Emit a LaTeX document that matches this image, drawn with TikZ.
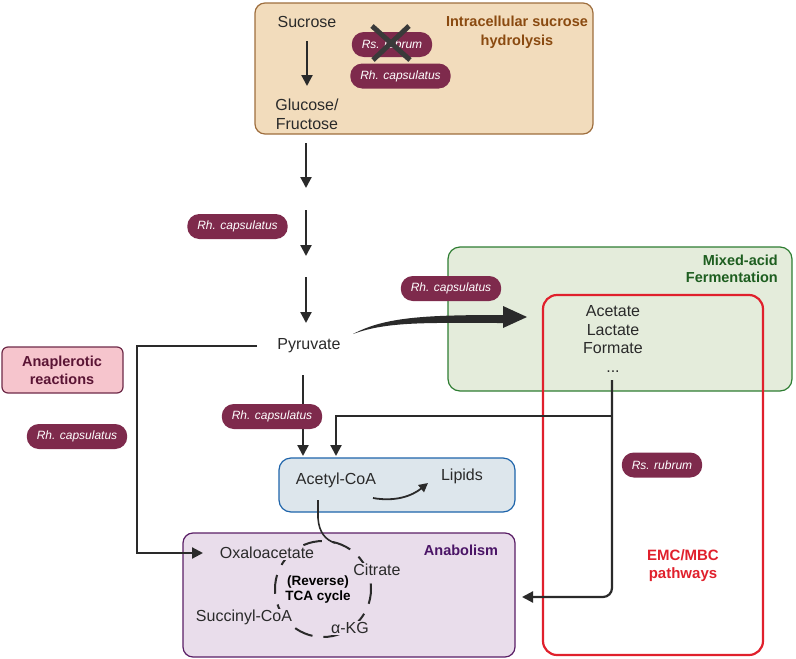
\documentclass[tikz,border=0pt]{standalone}
\usepackage{fontspec}
\setmainfont{Liberation Sans}
\usetikzlibrary{arrows.meta}
\definecolor{tanfill}{HTML}{F2DCBC}
\definecolor{tanborder}{HTML}{9E6E3E}
\definecolor{browntxt}{HTML}{8A4A10}
\definecolor{pillc}{HTML}{7E2A4C}
\definecolor{greenfill}{HTML}{E4ECDB}
\definecolor{greenborder}{HTML}{2E7D32}
\definecolor{greentxt}{HTML}{1E5E20}
\definecolor{redc}{HTML}{E0202C}
\definecolor{bluefill}{HTML}{DDE6EC}
\definecolor{blueborder}{HTML}{1E64AA}
\definecolor{purplefill}{HTML}{E9DDEB}
\definecolor{purpleborder}{HTML}{5A1E66}
\definecolor{purpletxt}{HTML}{4A1466}
\definecolor{pinkfill}{HTML}{F6C5CD}
\definecolor{pinkborder}{HTML}{6E2A48}
\definecolor{pinktxt}{HTML}{5A1434}
\definecolor{ink}{HTML}{2A2A2A}
\definecolor{crossc}{HTML}{3A3A3A}
\tikzset{
  region/.style={draw, line width=1.2pt, inner sep=0pt},
  pill/.style={fill=pillc, text=white, rounded corners=12pt, minimum height=25pt,
    inner xsep=10pt, inner ysep=0pt, font=\fontsize{12}{14}\selectfont\itshape},
  lbl/.style={font=\fontsize{16}{18.5}\selectfont, text=ink, align=center, inner sep=0pt},
  ttl/.style={font=\fontsize{14.5}{17.5}\selectfont\bfseries, align=center, inner sep=0pt},
  arr/.style={draw=ink, line width=2.2pt, -{Triangle[length=11pt,width=11pt]}},
  conn/.style={draw=ink, line width=2.2pt},
  crossline/.style={draw=crossc, line width=5pt},
}
\begin{document}
\begin{tikzpicture}[x=1pt,y=-1pt]
\useasboundingbox (0,0) rectangle (796,659);

% regions
\node[region, fill=tanfill, draw=tanborder, rounded corners=10pt, minimum width=338pt, minimum height=131pt] (hyd) at (424,68.5) {};
\node[region, fill=greenfill, draw=greenborder, rounded corners=12pt, minimum width=344pt, minimum height=144pt] (ferm) at (620,319) {};
\node[region, fill=bluefill, draw=blueborder, rounded corners=12pt, minimum width=236pt, minimum height=54pt] (acbox) at (397,485) {};
\node[region, fill=purplefill, draw=purpleborder, rounded corners=10pt, minimum width=332pt, minimum height=124pt] (anab) at (349,595) {};
\node[region, fill=pinkfill, draw=pinkborder, rounded corners=6pt, minimum width=121pt, minimum height=46pt] (anap) at (62.5,370) {};

% top box content
\node[lbl] (suc) at (307,22) {Sucrose};
\node[lbl, font=\fontsize{16}{19}\selectfont] (glu) at (307,114) {Glucose/\\Fructose};
\coordinate (s1) at (307,41);
\coordinate (s2) at (307,86);
\draw[arr] (s1) -- (s2);
\node[pill] (rsr1) at (392,44.5) {Rs. rubrum};
\node[pill] (rhc1) at (400.5,76) {Rh. capsulatus};
\coordinate (x1) at (372,26);
\coordinate (x2) at (410,60);
\coordinate (x3) at (409,26);
\coordinate (x4) at (373,60);
\draw[crossline] (x1) -- (x2);
\draw[crossline] (x3) -- (x4);
\node[ttl, text=browntxt, font=\fontsize{14.5}{19}\selectfont\bfseries] (hydt) at (517,32.5) {Intracellular sucrose\\hydrolysis};

% main chain
\coordinate (c1) at (306,143);
\coordinate (c2) at (306,188);
\coordinate (c3) at (306,210);
\coordinate (c4) at (306,256);
\coordinate (c5) at (306,277);
\coordinate (c6) at (306,323);
\draw[arr] (c1) -- (c2);
\draw[arr] (c3) -- (c4);
\draw[arr] (c5) -- (c6);
\node[pill] (rhc2) at (237.5,226.5) {Rh. capsulatus};

\node[lbl] (pyr) at (309,346) {Pyruvate};

% big curved arrow to fermentation
\fill[ink] (353,334) .. controls (385,317) and (425,315) .. (503,315)
  -- (503,306) -- (527,317) -- (503,328) -- (503,323)
  .. controls (430,323) and (388,321) .. (353,334) -- cycle;
\node[pill] (rhc3) at (451,288.5) {Rh. capsulatus};

% fermentation
\node[ttl, text=greentxt, align=right, anchor=east, font=\fontsize{14.5}{16.5}\selectfont\bfseries] (fermt) at (778,269) {Mixed-acid\\Fermentation};
\node[region, draw=redc, line width=2.2pt, rounded corners=14pt, minimum width=220pt, minimum height=360pt] (emc) at (653,475) {};
\node[lbl] (acids) at (613,339) {Acetate\\Lactate\\Formate\\...};
\node[ttl, text=redc, font=\fontsize{15}{18}\selectfont\bfseries] (emct) at (683,566) {EMC/MBC\\pathways};
\node[pill] (rsr2) at (662,465) {Rs. rubrum};

% anaplerotic
\node[ttl, text=pinktxt, font=\fontsize{14.5}{18}\selectfont\bfseries] (anapt) at (62,370) {Anaplerotic\\reactions};
\node[pill] (rhc4) at (77,436.5) {Rh. capsulatus};
\coordinate (p1) at (257,346);
\coordinate (p2) at (137,346);
\coordinate (p3) at (137,553);
\coordinate (p4) at (203,553);
\draw[arr] (p1) -- (p2) -- (p3) -- (p4);

% pyruvate -> acetyl-CoA
\coordinate (d1) at (303,375);
\coordinate (d2) at (303,456);
\draw[arr] (d1) -- (d2);
\node[pill] (rhc5) at (272,416.5) {Rh. capsulatus};

% acids -> acetyl-CoA and anabolism
\coordinate (f1) at (612,380);
\coordinate (f2) at (612,416);
\coordinate (f3) at (336,416);
\coordinate (f4) at (336,456);
\coordinate (f5) at (612,597);
\coordinate (f6) at (522,597);
\draw[arr, rounded corners=9pt] (f1) -- (f5) -- (f6);
\draw[arr] (f2) -- (f3) -- (f4);

% acetyl-CoA box
\node[lbl] (acoa) at (336,480) {Acetyl-CoA};
\node[lbl] (lip) at (462,476) {Lipids};
\coordinate (l1) at (373,498);
\coordinate (l2) at (428,483);
\draw[draw=ink, line width=1.8pt, -{Triangle[length=9pt,width=9pt]}] (l1) .. controls (395,502) and (412,496) .. (l2);

% anabolism
\node[ttl, text=purpletxt] (anabt) at (461,550) {Anabolism};
\coordinate (tca) at (323,589);
\draw[draw=ink, line width=2pt, dash pattern=on 19pt off 11pt, dash phase=4pt] (tca) circle [radius=48];
\coordinate (k1) at (318,500);
\coordinate (k2) at (335,543);
\draw[draw=ink, line width=1.6pt] (k1) -- (318,518) .. controls (319,533) and (326,540) .. (k2);
\node[lbl, fill=purplefill, inner sep=1pt] (oxa) at (267,553) {Oxaloacetate};
\node[lbl, fill=purplefill, inner sep=1pt] (cit) at (377,570) {Citrate};
\node[lbl, fill=purplefill, inner sep=1pt] (sca) at (244,617) {Succinyl-CoA};
\node[lbl, fill=purplefill, inner sep=1pt] (akg) at (350,628) {α-KG};
\node[ttl, font=\fontsize{13.5}{15.5}\selectfont\bfseries, text=black] (tcat) at (318,589.5) {(Reverse)\\TCA cycle};
\end{tikzpicture}
\end{document}
